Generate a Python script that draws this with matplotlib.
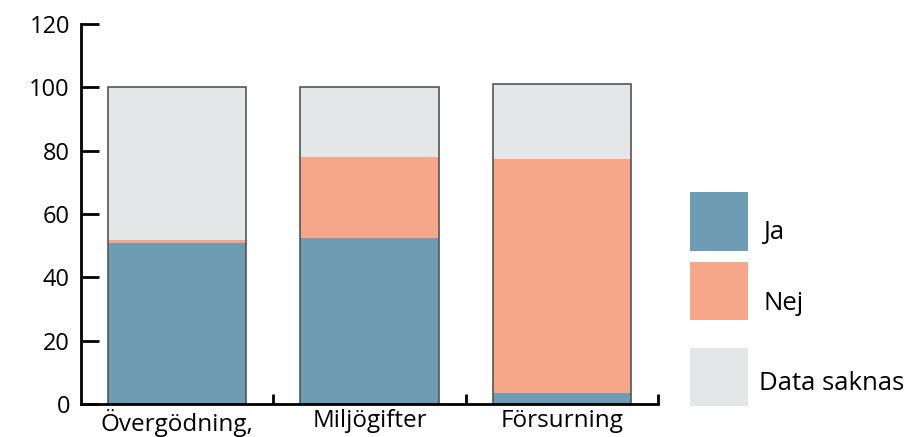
import matplotlib
matplotlib.use('Agg')
import matplotlib.pyplot as plt
from matplotlib.patches import Rectangle

plt.rcParams['font.family'] = ['Open Sans', 'DejaVu Sans']

# Data
categories = ['Övergödning,', 'Miljögifter', 'Försurning']
ja = [50.7, 52.5, 3.6]
nej = [1.1, 25.5, 73.7]
saknas = [48.2, 22.0, 23.7]
series_labels = ['Ja', 'Nej', 'Data saknas']
colors = ['#6f9cb5', '#f6a78a', '#e5e6e8']

W, H = 922, 437
fig = plt.figure(figsize=(W / 100, H / 100), dpi=100)
ax = fig.add_axes([81 / W, 1 - 404 / H, (658 - 81) / W, (404 - 24) / H])

x = range(len(categories))
width = 0.72
bottom2 = [a + b for a, b in zip(ja, nej)]
totals = [a + b + c for a, b, c in zip(ja, nej, saknas)]
ax.bar(x, ja, width, color=colors[0], linewidth=0)
ax.bar(x, nej, width, bottom=ja, color=colors[1], linewidth=0)
ax.bar(x, saknas, width, bottom=bottom2, color=colors[2], linewidth=0)
# outline around each full stack
ax.bar(x, totals, width, fill=False, edgecolor='#555555', linewidth=1.2)

ax.set_xlim(-0.5, 2.5)
ax.set_ylim(0, 120)
ax.set_yticks(range(0, 121, 20))
ax.set_xticks(list(x))
ax.set_xticklabels(categories)
ax.set_xticks([0.5, 1.5, 2.5], minor=True)
ax.tick_params(axis='x', which='major', length=0, labelsize=17.5, pad=3.5)
ax.tick_params(axis='x', which='minor', direction='in', length=7, width=2)
ax.tick_params(axis='y', direction='in', length=13, width=2, labelsize=17, pad=8)
for s in ['top', 'right']:
    ax.spines[s].set_visible(False)
ax.spines['left'].set_linewidth(2)
ax.spines['bottom'].set_linewidth(2)

# legend boxes drawn manually
boxes = [(192, 251), (262, 320), (348, 406)]
text_y = [233, 303, 383]
text_x = [763, 763, 759]
for (top, bot), ty, tx, lab, c in zip(boxes, text_y, text_x, series_labels, colors):
    fig.patches.append(Rectangle((690 / W, 1 - bot / H), 58 / W, (bot - top) / H,
                                 transform=fig.transFigure, facecolor=c, edgecolor='none'))
    fig.text(tx / W, 1 - ty / H, lab, fontsize=18.5, va='center', ha='left')

fig.savefig('out.png', dpi=100)
